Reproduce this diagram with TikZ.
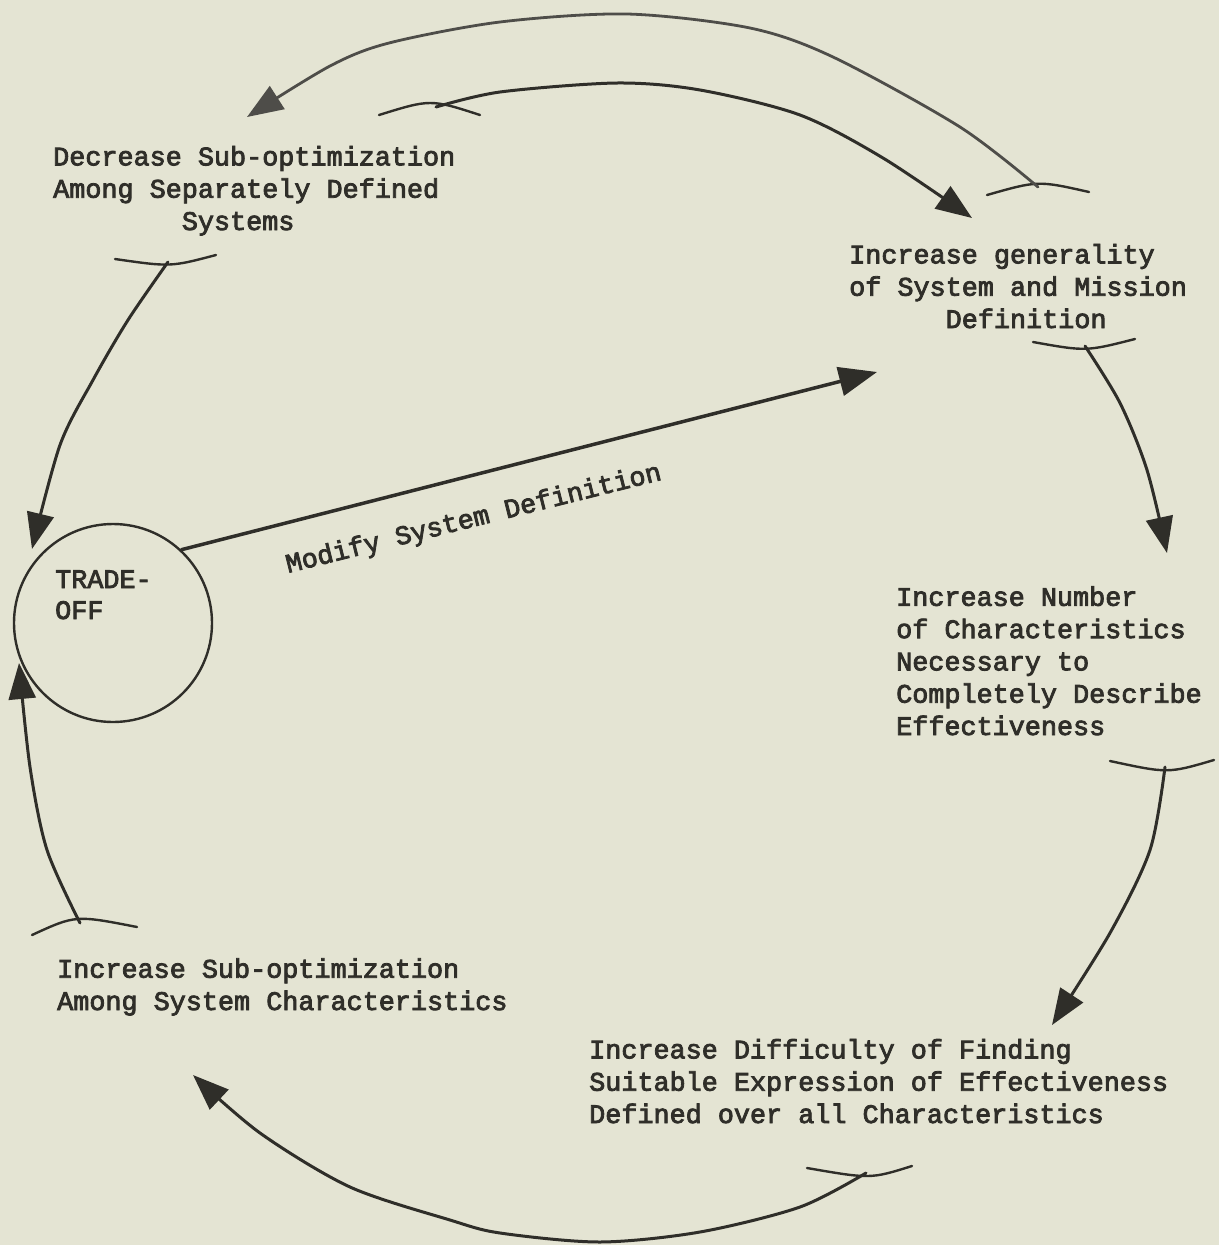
\documentclass[tikz,border=0pt]{standalone}
\usepackage{fontspec}
\newfontfamily\tw[BoldFont={Liberation Mono}, BoldFeatures={FakeBold=3}]{Liberation Mono}
\usetikzlibrary{arrows.meta}
\definecolor{paper}{HTML}{E4E4D3}
\definecolor{ink}{HTML}{2F2E29}
\begin{document}
\begin{tikzpicture}[x=1pt,y=-1pt,
  txt/.style={font=\tw\bfseries\fontsize{26.8}{32.3}\selectfont, text=ink, inner sep=0pt, align=left, anchor=base west},
  arc/.style={draw=ink, line width=3pt, line cap=round, -{Triangle[length=36pt,width=27pt]}},
  tbar/.style={draw=ink, line width=2.4pt, line cap=round},
]
\fill[paper] (0,0) rectangle (1219,1245);
\useasboundingbox (0,0) rectangle (1219,1245);

% text blocks (base anchor = baseline of last line)
\node[txt] (dec) at (53,230) {Decrease Sub-optimization\\Among Separately Defined\\\phantom{Among Se}Systems};
\node[txt] (gen) at (849,328) {Increase generality\\of System and Mission\\\phantom{of Sys}Definition};
\node[txt] (num) at (896,735) {Increase Number\\of Characteristics\\Necessary to\\Completely Describe\\Effectiveness};
\node[txt] (dif) at (589,1123) {Increase Difficulty of Finding\\Suitable Expression of Effectiveness\\Defined over all Characteristics};
\node[txt] (sub) at (57,1010) {Increase Sub-optimization\\Among System Characteristics};
\node[draw=ink, line width=2.4pt, circle, minimum size=198pt, inner sep=0pt] (trade) at (113,623) {};
\node[txt, font=\tw\bfseries\fontsize{26.8}{31}\selectfont] (tradetxt) at (55,619) {TRADE-\\OFF};
\node[txt, rotate=14] (modlbl) at (288,573) {Modify System Definition};

% T-bar junctions
\coordinate (tb1) at (168,262);
\coordinate (tb2) at (436,107);
\coordinate (tb3) at (1038,187);
\coordinate (tb4) at (1085,346);
\coordinate (tb5) at (1165,767);
\coordinate (tb6) at (866,1173);
\coordinate (tb7) at (80,923);
% arrow tips
\coordinate (tipA) at (32,549);
\coordinate (tipC) at (1167,553);
\coordinate (tipD) at (1052,1025);
\coordinate (tipE) at (193,1075);
\coordinate (tipF) at (19,663);
\coordinate (tipG) at (972,218);
\coordinate (tipH) at (247,117);
\coordinate (modtip) at (877,372);

% T-bars
\draw[tbar] (115,259) .. controls (170.5,267) .. (216,255);
\draw[tbar] (379,115) .. controls (430.5,99) .. (480,115);
\draw[tbar] (987,195) .. controls (1038,180.5) .. (1089,192);
\draw[tbar] (1033,342) .. controls (1086,351.5) .. (1135,339);
\draw[tbar] (1110,761) .. controls (1168,773.5) .. (1214,760);
\draw[tbar] (807,1168) .. controls (870.5,1179) .. (912,1166);
\draw[tbar] (32,935) .. controls (75.5,915) .. (137,927);

% connectors
\draw[arc] plot[smooth] coordinates {(tb1) (128,320) (93,380) (60,445) (tipA)};
\draw[arc, line width=3.5pt, -{Triangle[length=38pt,width=29pt]}] (trade.47.5) -- (modtip);
\draw[arc] plot[smooth] coordinates {(tb4) (1120,403) (1147,470) (tipC)};
\draw[arc] plot[smooth] coordinates {(tb5) (1150,850) (1110,933) (tipD)};
\draw[arc] plot[smooth] coordinates {(tb6) (800,1207) (700,1232) (600,1242) (500,1233) (450,1220) (350,1187) (260,1133) (tipE)};
\draw[arc] plot[smooth] coordinates {(tb7) (47,850) (30,767) (tipF)};
\draw[arc] plot[smooth] coordinates {(tb2) (500,92) (617,83) (700,90) (800,115) (883,158) (tipG)};
\draw[arc, draw=ink!85, line width=2.8pt] plot[smooth] coordinates {(tb3) (960,127) (833,57) (750,28) (627,14) (500,22) (389,43) (330,66) (tipH)};
\end{tikzpicture}
\end{document}
